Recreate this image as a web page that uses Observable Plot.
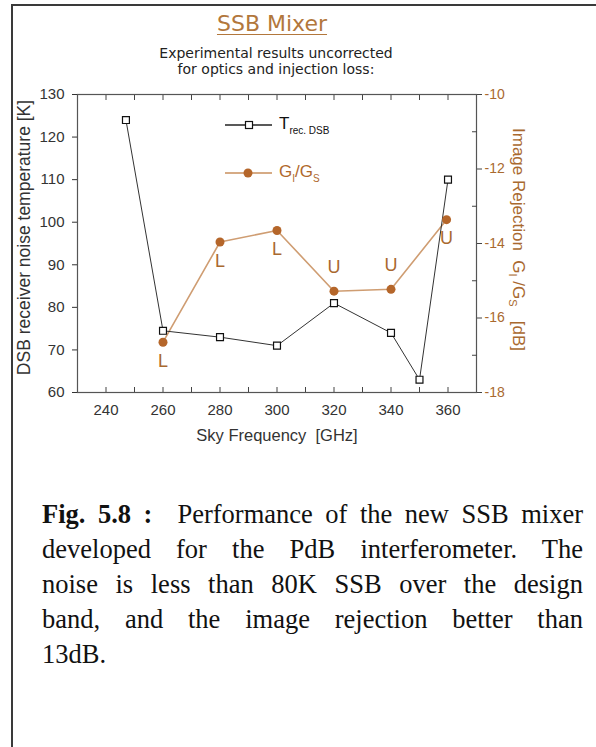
<!DOCTYPE html>
<html><head><meta charset="utf-8">
<script src="https://cdn.jsdelivr.net/npm/d3@7"></script>
<script src="https://cdn.jsdelivr.net/npm/@observablehq/plot@0.6"></script>
<style>
body{margin:0;background:#fff;}
#page{position:relative;width:596px;height:747px;overflow:hidden;background:#fff;}
.bl{position:absolute;left:11px;top:4px;width:2px;height:743px;background:#3a3a3a;}
.bt{position:absolute;left:11px;top:4px;width:585px;height:2px;background:#3a3a3a;}
#title{position:absolute;left:152px;width:240px;top:11px;text-align:center;font-family:"DejaVu Sans",Verdana,sans-serif;font-size:22px;line-height:26px;color:#b2773c;text-decoration:underline;text-decoration-thickness:1px;text-underline-offset:3px;}
#subtitle{position:absolute;left:126px;width:300px;top:45px;text-align:center;font-family:"DejaVu Sans",Verdana,sans-serif;font-size:14px;line-height:16px;color:#222;}
#chart{position:absolute;left:0;top:80px;}
.leg{position:absolute;font-family:"Liberation Sans",Arial,sans-serif;font-size:17px;display:flex;align-items:center;}
.leg svg{margin-right:6px;}
.leg sub{font-size:10px;vertical-align:-5px;}
#caption{position:absolute;left:42px;top:497px;width:541px;font-family:"Liberation Serif","Times New Roman",serif;font-size:26.5px;line-height:35px;color:#111;}
#caption .ln{text-align:justify;text-align-last:justify;white-space:nowrap;}
#caption .last{text-align:left;text-align-last:left;}
</style>
</head><body>
<div id="page">
  <div class="bl"></div><div class="bt"></div>
  <div id="title">SSB Mixer</div>
  <div id="subtitle">Experimental results uncorrected<br>for optics and injection loss:</div>
  <div id="chart"></div>
  <div class="leg" style="left:225px;top:114px;color:#111;">
    <svg width="48" height="14"><line x1="0" y1="7" x2="47" y2="7" stroke="#222" stroke-width="1.3"/><rect x="20.5" y="3.5" width="7" height="7" fill="#fff" stroke="#111" stroke-width="1.2"/></svg>
    <span>T<sub>rec. DSB</sub></span>
  </div>
  <div class="leg" style="left:225px;top:162px;color:#b0682c;">
    <svg width="48" height="14"><line x1="0" y1="7" x2="47" y2="7" stroke="#c98f5c" stroke-width="1.5"/><circle cx="23" cy="7" r="4.5" fill="#b5662a"/></svg>
    <span>G<sub>I</sub>/G<sub>S</sub></span>
  </div>
  <div id="caption">
    <div class="ln"><b>Fig. 5.8 :</b>&nbsp; Performance of the new SSB mixer</div>
    <div class="ln">developed for the PdB interferometer. The</div>
    <div class="ln">noise is less than 80K SSB over the design</div>
    <div class="ln">band, and the image rejection better than</div>
    <div class="ln last">13dB.</div>
  </div>
</div>
<script>
// ---- data ----
const freqT = [247, 260, 280, 300, 320, 340, 350, 360];
const tempT = [124, 74.5, 73, 71, 81, 74, 63, 110];
const freqG = [260, 280, 300, 320, 340, 359.5];
const imageRej = [-16.65, -13.96, -13.65, -15.28, -15.23, -13.36];
const sideband = ["L", "L", "L", "U", "U", "U"];
const xTickLabels = [240, 260, 280, 300, 320, 340, 360];
const xMinorTicks = [240, 250, 260, 270, 280, 290, 300, 310, 320, 330, 340, 350, 360];
const yTickLabels = [60, 70, 80, 90, 100, 110, 120, 130];
const gTickLabels = [-10, -12, -14, -16, -18];
const gMinorTicks = [-11, -13, -15, -17];
const xDomain = [230, 370];
const yDomain = [60, 130];
const gDomain = [-18, -10];
const yTitle = "DSB receiver noise temperature [K]";
const xTitle = "Sky Frequency  [GHz]";
const gTitle = "Image Rejection  G_I /G_S  [dB]";

const orange = "#b5662a";
const orangeText = "#a9692f";
const toLeft = g => yDomain[0] + (g - gDomain[0]) * (yDomain[1] - yDomain[0]) / (gDomain[1] - gDomain[0]);
const fromLeft = y => gDomain[0] + (y - yDomain[0]) * (gDomain[1] - gDomain[0]) / (yDomain[1] - yDomain[0]);

const tRows = freqT.map((f, i) => ({f, t: tempT[i]}));
const gRows = freqG.map((f, i) => ({f, g: imageRej[i], y: toLeft(imageRej[i]), s: sideband[i], last: i === freqG.length - 1}));
const below = d => d.s === "L" || d.last;

const chart = Plot.plot({
  width: 596,
  height: 380,
  marginTop: 14,
  marginBottom: 68,
  marginLeft: 77,
  marginRight: 120,
  style: {fontFamily: "'Liberation Sans', Arial, sans-serif", fontSize: "14px", color: "#333", background: "transparent", overflow: "visible"},
  x: {domain: xDomain},
  y: {domain: yDomain},
  marks: [
    Plot.frame({stroke: "#555", strokeWidth: 1.2}),
    // bottom axis: labels + inward ticks
    Plot.axisX({ticks: xTickLabels, tickSize: 0, tickPadding: 12, fontSize: 15, label: null}),
    Plot.axisX({anchor: "bottom", ticks: xMinorTicks, tickSize: -5, tickFormat: () => "", label: null, stroke: "#444"}),
    Plot.axisX({anchor: "top", ticks: xMinorTicks, tickSize: -5, tickFormat: () => "", label: null, stroke: "#444"}),
    // left axis
    Plot.axisY({ticks: yTickLabels, tickSize: 5, tickPadding: 8, fontSize: 15, label: null}),
    // right axis (image rejection)
    Plot.axisY({anchor: "right", ticks: gTickLabels.map(toLeft), tickSize: 5, tickFormat: () => "", label: null, stroke: "#444"}),
    Plot.axisY({anchor: "right", ticks: gMinorTicks.map(toLeft), tickSize: -5, tickFormat: () => "", label: null, stroke: "#444"}),
    Plot.axisY({anchor: "right", ticks: gTickLabels.map(toLeft), tickSize: 0, tickPadding: 8, fontSize: 14, color: orangeText,
      tickFormat: v => String(Math.round(fromLeft(v))), label: null}),
    // axis titles
    Plot.text([yTitle], {frameAnchor: "left", textAnchor: "middle", rotate: -90, dx: -53, dy: -6, text: d => d, fontSize: 17.5, fill: "#333"}),
    Plot.text([xTitle], {frameAnchor: "bottom", dy: 48, text: d => d, fontSize: 16.5, fill: "#333"}),
    Plot.text([gTitle], {frameAnchor: "right", textAnchor: "middle", rotate: 90, dx: 42, dy: -4, text: d => d, fontSize: 17, fill: orangeText}),
    // series
    Plot.line(gRows, {x: "f", y: "y", stroke: "#cf9d72", strokeWidth: 1.6}),
    Plot.line(tRows, {x: "f", y: "t", stroke: "#333", strokeWidth: 1}),
    Plot.dot(tRows, {x: "f", y: "t", symbol: "square", r: 3.9, fill: "white", stroke: "#111", strokeWidth: 1.2}),
    Plot.dot(gRows, {x: "f", y: "y", r: 4.5, fill: orange}),
    Plot.text(gRows.filter(below), {x: "f", y: "y", text: "s", dy: 19, dx: 0, fontSize: 18, fill: orangeText}),
    Plot.text(gRows.filter(d => !below(d)), {x: "f", y: "y", text: "s", dy: -24, fontSize: 18, fill: orangeText})
  ]
});
document.getElementById("chart").append(chart);

// add subscripts to the right-axis title
d3.select(chart).selectAll("text").each(function() {
  if (this.textContent === gTitle) {
    const t = d3.select(this);
    t.text(null);
    const parts = [["Image Rejection  G", false], ["I", true], [" /G", false], ["S", true], ["   [dB]", false]];
    let prevSub = false;
    for (const [s, sub] of parts) {
      const sp = t.append("tspan").text(s).style("white-space", "pre");
      if (sub) sp.attr("font-size", 11).attr("dy", 4);
      else if (prevSub) sp.attr("dy", -4);
      prevSub = sub;
    }
  }
});
</script>
</body></html>
